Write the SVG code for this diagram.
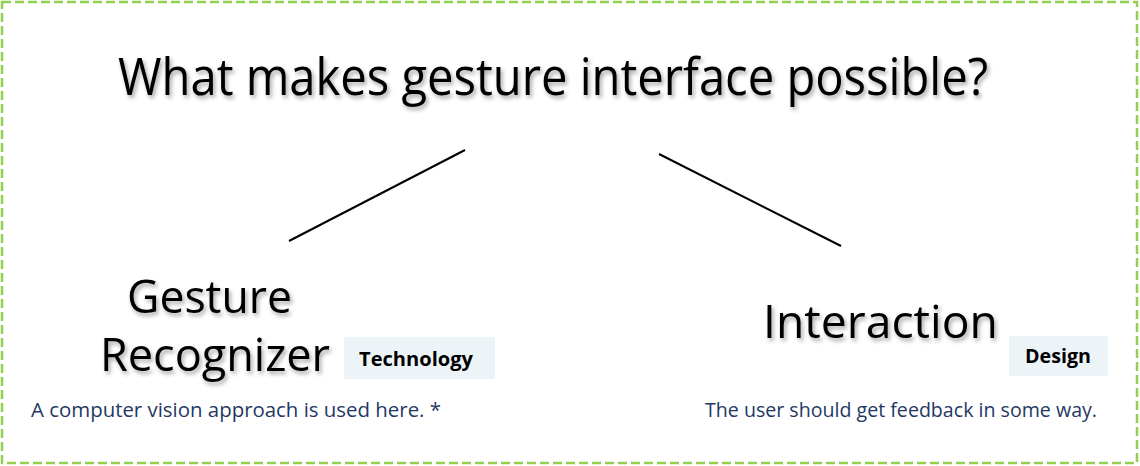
<svg xmlns="http://www.w3.org/2000/svg" width="1140" height="466" viewBox="0 0 1140 466">
  <defs>
    <filter id="shadow" x="-5%" y="-20%" width="110%" height="150%">
      <feDropShadow dx="2" dy="3" stdDeviation="2" flood-color="#000" flood-opacity="0.35"/>
    </filter>
  </defs>
  <style>
    .frame { fill: #fff; stroke: #92D050; stroke-width: 2.5; stroke-dasharray: 9 4; }
    .title { font-family: "Open Sans", "Noto Sans", sans-serif; font-weight: 400; fill: #000; filter: url(#shadow); }
    .tag-box { fill: #EDF4F7; }
    .tag { font-family: "Open Sans", "Noto Sans", sans-serif; font-weight: bold; font-size: 19px; fill: #000; }
    .note { font-family: "Open Sans", "Noto Sans", sans-serif; font-size: 20px; fill: #1F3864; }
    .link { stroke: #000; stroke-width: 2; fill: none; }
  </style>

  <rect class="frame" x="2" y="2" width="1135" height="461"/>

  <g id="question">
    <text class="title" x="118" y="95" font-size="51" textLength="870" lengthAdjust="spacingAndGlyphs">What makes gesture interface possible?</text>
  </g>

  <g id="connectors">
    <line class="link" x1="465" y1="150" x2="289" y2="241"/>
    <line class="link" x1="659" y1="154" x2="841" y2="246"/>
  </g>

  <g id="gesture-recognizer">
    <text class="title" x="127" y="313" font-size="46" textLength="165" lengthAdjust="spacingAndGlyphs">Gesture</text>
    <text class="title" x="100" y="371" font-size="46" textLength="230" lengthAdjust="spacingAndGlyphs">Recognizer</text>
    <rect class="tag-box" x="344" y="337" width="151" height="42"/>
    <text class="tag" x="359" y="366" textLength="114" lengthAdjust="spacingAndGlyphs">Technology</text>
    <text class="note" x="31" y="417" textLength="410" lengthAdjust="spacingAndGlyphs">A computer vision approach is used here. *</text>
  </g>

  <g id="interaction">
    <text class="title" x="763" y="338" font-size="46" textLength="235" lengthAdjust="spacingAndGlyphs">Interaction</text>
    <rect class="tag-box" x="1009" y="336" width="99" height="40"/>
    <text class="tag" x="1025" y="363" textLength="66" lengthAdjust="spacingAndGlyphs">Design</text>
    <text class="note" x="705" y="417" textLength="392" lengthAdjust="spacingAndGlyphs">The user should get feedback in some way.</text>
  </g>
</svg>
